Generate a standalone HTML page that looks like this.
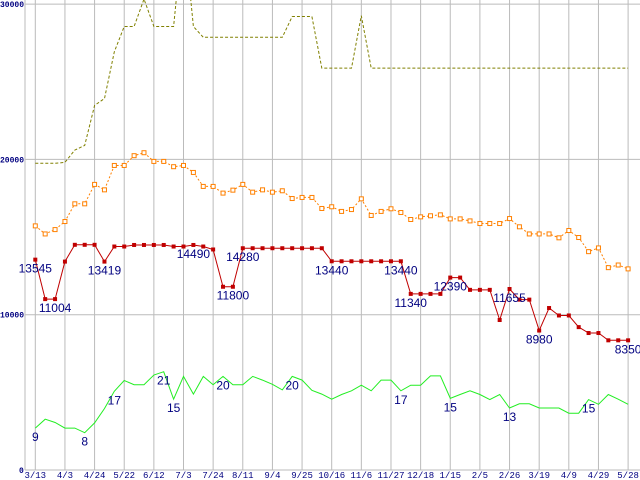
<!DOCTYPE html>
<html><head><meta charset="utf-8"><style>
html,body{margin:0;padding:0;background:#fff;}
svg{display:block;}
</style></head><body>
<svg id="chart" width="640" height="480" xmlns="http://www.w3.org/2000/svg"></svg>
<script>
const xTickLabels = ["3/13","4/3","4/24","5/22","6/12","7/3","7/24","8/11","9/4","9/25","10/16","11/6","11/27","12/18","1/15","2/5","2/26","3/19","4/9","4/29","5/28"];
const yTickValues = [0,10000,20000,30000];
const oliveSeries = [19750,19750,19750,19810,20600,20900,23480,23920,26920,28560,28560,30320,28560,28560,28560,35000,28560,27860,27860,27860,27860,27860,27860,27860,27860,27860,29200,29200,29200,25880,25880,25880,25880,29250,25880,25880,25880,25880,25880,25880,25880,25880,25880,25880,25880,25880,25880,25880,25880,25880,25880,25880,25880,25880,25880,25880,25880,25880,25880,25880,25880];
const orangeSeries = [15720,15200,15480,16000,17140,17140,18390,18040,19610,19610,20240,20430,19870,19870,19530,19610,19160,18260,18260,17830,18020,18390,17890,18040,17890,17980,17480,17550,17550,16840,16950,16650,16770,17460,16390,16650,16820,16580,16130,16300,16370,16430,16170,16170,16040,15870,15870,15870,16190,15660,15200,15200,15200,14950,15420,14970,14060,14300,13030,13200,12950];
const redSeries = [13545,11004,11004,13419,14500,14500,14500,13419,14390,14390,14490,14490,14490,14490,14390,14390,14490,14390,14200,11800,11800,14280,14280,14280,14280,14280,14280,14280,14280,14280,13440,13440,13440,13440,13440,13440,13440,13440,11340,11340,11340,11340,12390,12390,11600,11600,11600,9658,11655,10970,10970,8980,10430,9950,9950,9200,8820,8820,8350,8350,8350];
const greenSeries = [9,10.9,10.2,9,9,8,10.1,13.2,16.9,19.2,18.3,18.3,20.4,21.1,15.2,20.1,16.3,20.1,18.3,20.1,18.3,18.3,20.1,19.3,18.4,17.2,20.1,19.3,17.1,16.3,15.2,16.2,17,18.2,17,19.3,19.3,17,18.2,18.2,20.2,20.2,15.4,16.2,17,16.2,15.1,16.2,13.3,14.2,14.2,13.3,13.3,13.3,12.2,12.2,15.1,14.1,16.2,15.2,14.1];
const redLabelIdx = [0,2,7,16,20,21,30,37,38,42,48,51,60];
const redLabelText = ["13545","11004","13419","14490","11800","14280","13440","13440","11340","12390","11655","8980","8350"];
const greenLabelIdx = [0,5,8,13,14,19,26,37,42,48,56];
const greenLabelText = ["9","8","17","21","15","20","20","17","15","13","15"];

const NS="http://www.w3.org/2000/svg";
const svg=document.getElementById('chart');
const X0=35.3, DX=9.88, Y0=470, KY=0.01553, GREEN_K=300;
function xs(i){return X0+DX*i;}
function ys(v){return Y0-v*KY;}
function mk(tag,attrs,parent){const e=document.createElementNS(NS,tag);for(const k in attrs)e.setAttribute(k,attrs[k]);(parent||svg).appendChild(e);return e;}

// grid
const grid=mk('g',{});


yTickValues.forEach(v=>{
  const l=mk('line',{x1:25,x2:640,y1:ys(v),y2:ys(v),stroke:'#bbbbbb','stroke-width':1},grid);
  
  
});
const ax=mk('line',{x1:25,x2:25,y1:0,y2:470,stroke:'#bbbbbb','stroke-width':1},grid);


xTickLabels.forEach((t,k)=>{
  const x=xs(k*3);
  const l=mk('line',{x1:x,x2:x,y1:0,y2:470,stroke:'#bbbbbb','stroke-width':1},grid);
  
  
  const tx=mk('text',{x:x,y:478,'text-anchor':'middle','font-family':'Liberation Mono, monospace','font-size':'9','fill':'#000080'},grid);
  tx.textContent=t;
  
  
});
yTickValues.forEach(v=>{
  const tx=mk('text',{x:v===0?19:0,y:ys(v)+3,'font-family':'Liberation Mono, monospace','font-size':'8','font-weight':'bold','fill':'#000080'},grid);
  tx.textContent=String(v);
  
  
});

const plot=mk('g',{});
mk('clipPath',{id:'clip'}).appendChild(mk('rect',{x:25,y:0,width:615,height:470}));
plot.setAttribute('clip-path','url(#clip)');



function pts(arr,f){return arr.map((v,i)=>xs(i).toFixed(1)+','+f(v).toFixed(1)).join(' ');}

const olive=mk('polyline',{points:pts(oliveSeries,ys),fill:'none',stroke:'#808000','stroke-width':1,'stroke-dasharray':'3,2'},plot);



const orange=mk('polyline',{points:pts(orangeSeries,ys),fill:'none',stroke:'#ff8000','stroke-width':1,'stroke-dasharray':'2,2'},plot);


orangeSeries.forEach((v,i)=>{
  const r=mk('rect',{x:xs(i)-2,y:ys(v)-2,width:4,height:4,fill:'#fff',stroke:'#ff8000','stroke-width':1},plot);
  
  
});

const red=mk('polyline',{points:pts(redSeries,ys),fill:'none',stroke:'#c00000','stroke-width':1},plot);


redSeries.forEach((v,i)=>{
  const r=mk('rect',{x:xs(i)-2,y:ys(v)-2,width:4,height:4,fill:'#c00000'},plot);
  
  
});

const gy=v=>ys(v*GREEN_K);
const green=mk('polyline',{points:pts(greenSeries,gy),fill:'none',stroke:'#22ee22','stroke-width':1},plot);



function label(i,y,t,name){
  const tx=mk('text',{x:xs(i),y:y+13,'text-anchor':'middle','font-family':'Liberation Sans, sans-serif','font-size':'12','fill':'#000080'});
  tx.textContent=t;
  
  
}
redLabelIdx.forEach((i,k)=>label(i,ys(redSeries[i]),redLabelText[k],'red-value-label'));
greenLabelIdx.forEach((i,k)=>label(i,gy(greenSeries[i]),greenLabelText[k],'green-value-label'));
</script>
</body></html>
